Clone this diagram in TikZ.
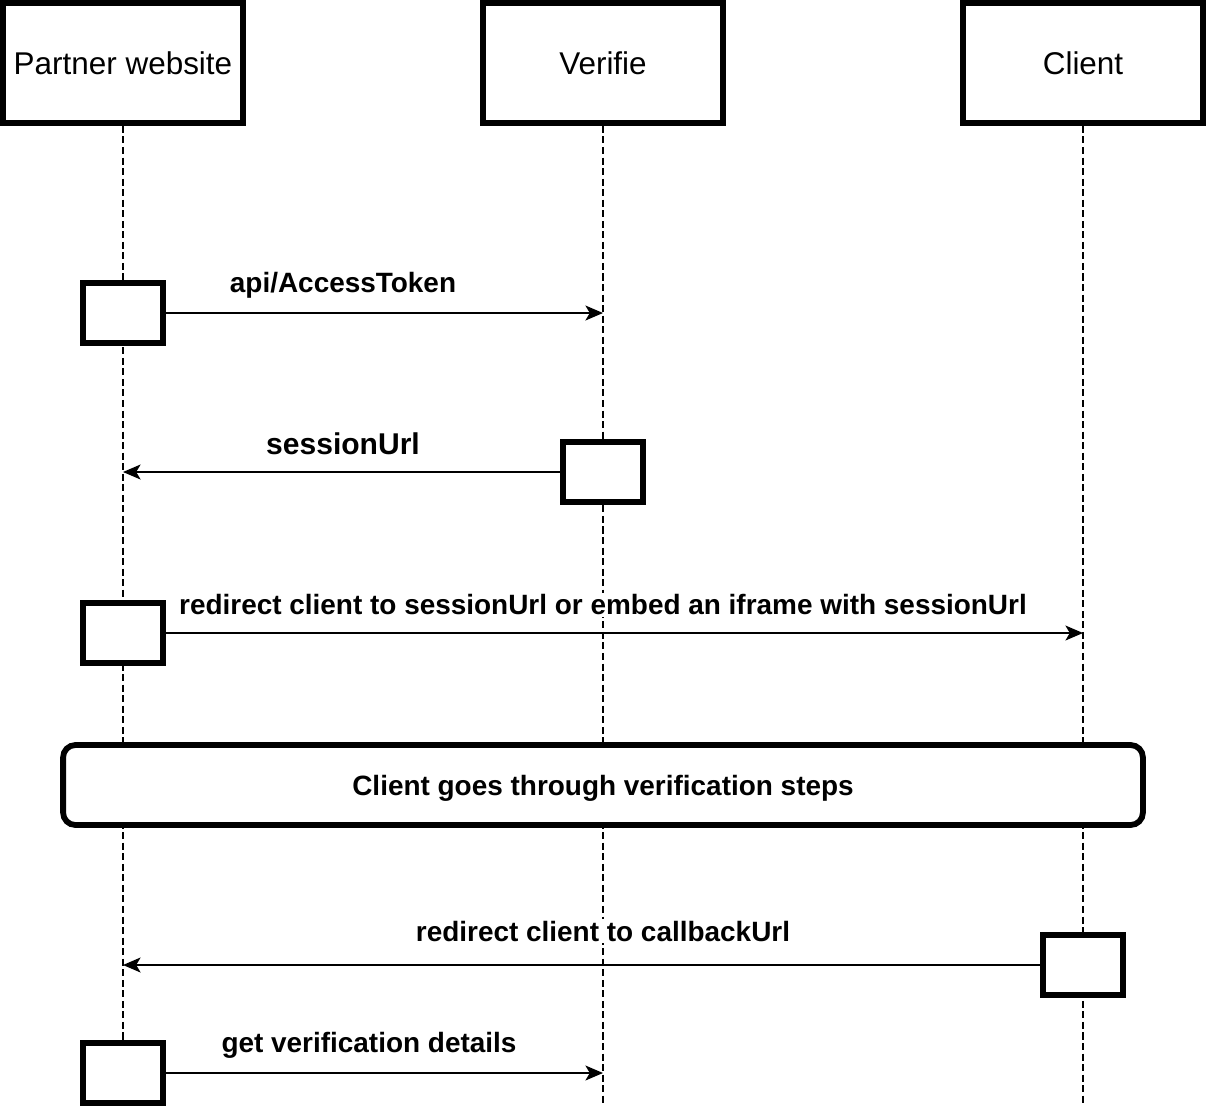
\documentclass[tikz,border=0pt]{standalone}
\usepackage{fontspec}
\setmainfont{Liberation Sans}
\usetikzlibrary{arrows.meta}
\begin{document}
\begin{tikzpicture}[x=0.02cm,y=-0.02cm,
  actor/.style={draw,fill=white,line width=3.3pt,minimum width=4.8cm,minimum height=2.4cm,inner sep=0pt,font=\fontsize{17.9}{20}\selectfont},
  act/.style={draw,fill=white,line width=3.3pt,minimum width=1.6cm,minimum height=1.2cm,inner sep=0pt},
  life/.style={line width=1pt,dash pattern=on 4pt off 2pt},
  msg/.style={line width=1.1pt,-{Stealth[length=10pt,width=8.5pt,inset=2.5pt]}},
  lbl/.style={fill=white,draw=none,inner sep=1pt,font=\bfseries\fontsize{15.9}{18}\selectfont}]
\useasboundingbox (0,0) rectangle (1206,1106);
% lifeline ends
\coordinate (pwe) at (123,1106);
\coordinate (vfe) at (603,1106);
\coordinate (cle) at (1083,1106);
% actors
\node[actor] (pw) at (123,63) {Partner website};
\node[actor] (vf) at (603,63) {Verifie};
\node[actor] (cl) at (1083,63) {Client};
\draw[life] (pw.south) -- (pwe);
\draw[life] (vf.south) -- (vfe);
\draw[life] (cl.south) -- (cle);
% activations
\node[act] (a1) at (123,313) {};
\node[act] (a2) at (603,472) {};
\node[act] (a3) at (123,633) {};
\node[act] (a4) at (1083,965) {};
\node[act] (a5) at (123,1073) {};
% targets
\coordinate (t1) at (603,313);
\coordinate (t2) at (123,472);
\coordinate (t3) at (1083,633);
\coordinate (t4) at (123,965);
\coordinate (t5) at (603,1073);
\draw[msg] (a1.east) -- (t1);
\draw[msg] (a2.west) -- (t2);
\draw[msg] (a3.east) -- (t3);
\draw[msg] (a4.west) -- (t4);
\draw[msg] (a5.east) -- (t5);
% labels
\node[lbl] (l1) at (343,285) {api/AccessToken};
\node[lbl,font=\bfseries\fontsize{17.1}{19}\selectfont] (l2) at (343,444) {sessionUrl};
\node[lbl] (l3) at (603,605) {redirect client to sessionUrl or embed an iframe with sessionUrl};
\node[lbl] (l4) at (603,931) {redirect client to callbackUrl};
\node[lbl] (l5) at (369,1045) {get verification details};
% fragment
\node[draw,fill=white,line width=3.3pt,rounded corners=7pt,minimum width=21.6cm,minimum height=1.6cm,inner sep=0pt,text depth=0pt,font=\bfseries\fontsize{15.9}{18}\selectfont] (fr) at (603,785) {Client goes through verification steps};
\end{tikzpicture}
\end{document}
